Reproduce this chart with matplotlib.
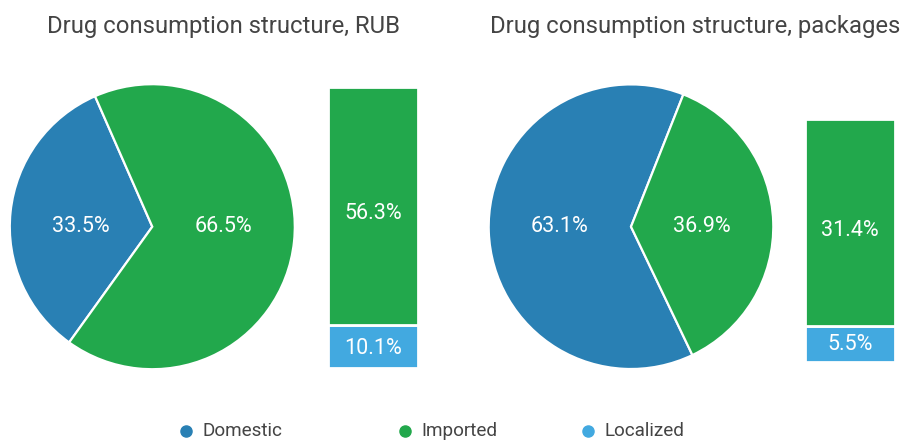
import matplotlib
matplotlib.use("Agg")
import matplotlib.pyplot as plt
from matplotlib.lines import Line2D
import numpy as np

# Data
categories = ["Domestic", "Imported", "Localized"]
titles = ["Drug consumption structure, RUB", "Drug consumption structure, packages"]
pie_rub = [33.5, 66.5]          # Domestic, Imported (incl. localized)
bar_rub = [10.1, 56.3]          # Localized, Imported (pure)
pie_pkg = [63.1, 36.9]
bar_pkg = [5.5, 31.4]
start_angles = [113.7, 68.4]

C_DOM = "#2980B4"
C_IMP = "#22A84C"
C_LOC = "#42A9E0"
TXT = "#444444"
FONT = ["Roboto", "DejaVu Sans"]

W, H = 905, 440
fig = plt.figure(figsize=(W / 100, H / 100), dpi=100)
plt.rcParams["font.family"] = FONT
LBL = 15.5


def px_axes(x0, y0, x1, y1):
    return fig.add_axes([x0 / W, 1 - y1 / H, (x1 - x0) / W, (y1 - y0) / H])


def draw_pie(cx, cy, r, vals, start):
    ax = px_axes(cx - r, cy - r, cx + r, cy + r)
    wedges, _ = ax.pie(vals, colors=[C_DOM, C_IMP], startangle=start,
                       counterclock=True, radius=1,
                       wedgeprops=dict(edgecolor="white", linewidth=1.6))
    for w, v in zip(wedges, vals):
        mid = np.deg2rad((w.theta1 + w.theta2) / 2)
        ax.text(0.5 * np.sign(np.cos(mid)), 0, f"{v:.1f}%", color="white",
                fontsize=LBL, ha="center", va="center")
    ax.set_xlim(-1, 1)
    ax.set_ylim(-1, 1)
    ax.set_aspect("auto")
    ax.axis("off")


def draw_bar(x0, y0, x1, y1, vals, offsets):
    ax = px_axes(x0, y0, x1, y1)
    bottom = 0
    for v, c, off in zip(vals, [C_LOC, C_IMP], offsets):
        ax.bar(0, v, bottom=bottom, width=1, color=c, edgecolor="white", linewidth=2)
        ax.annotate(f"{v:.1f}%", (0, bottom + v / 2), xytext=(0, off),
                    textcoords="offset pixels", color="white", fontsize=LBL,
                    ha="center", va="center")
        bottom += v
    ax.set_xlim(-0.5, 0.5)
    ax.set_ylim(0, sum(vals))
    ax.axis("off")


draw_pie(152.3, 226.7, 142.5, pie_rub, start_angles[0])
draw_bar(328, 87, 418, 368, bar_rub, [-2, -7])
draw_pie(631, 226.7, 142.3, pie_pkg, start_angles[1])
draw_bar(805, 119, 895, 362, bar_pkg, [-1, -8])

fig.text(223 / W, 1 - 26 / H, titles[0], color=TXT, fontsize=17.2, ha="center", va="center")
fig.text(695 / W, 1 - 26 / H, titles[1], color=TXT, fontsize=17.2, ha="center", va="center")

leg_x = [186, 405, 588]
for hx, c, lab in zip(leg_x, [C_DOM, C_IMP, C_LOC], categories):
    fig.text((hx + 16) / W, 1 - 431 / H, lab, color=TXT, fontsize=13.6, ha="left", va="center")
    fig.lines.append(Line2D([hx / W], [1 - 431 / H], marker="o", markersize=8,
                            markerfacecolor=c, markeredgecolor=c, linestyle="none",
                            transform=fig.transFigure))

fig.savefig("out.png", dpi=100, facecolor="white")
